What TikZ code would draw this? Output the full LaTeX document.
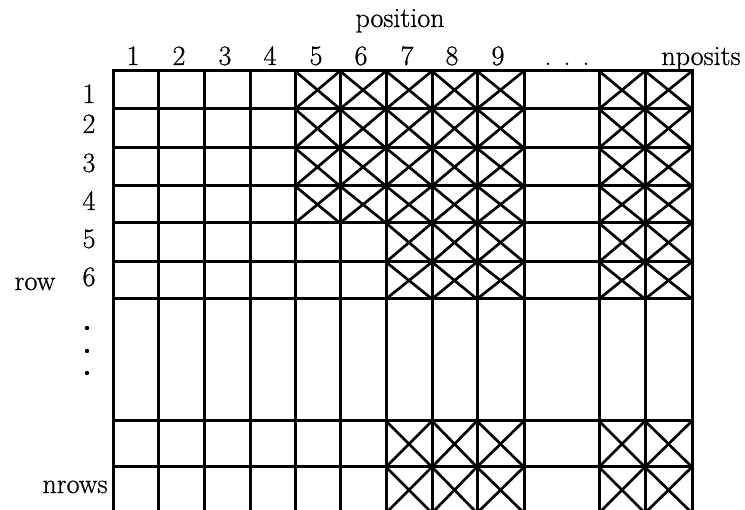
\documentclass[tikz,border=0pt]{standalone}
\usepackage{fontspec}
\newfontfamily\scanfont{Latin Modern Roman}[FakeBold=0.8]
\begin{document}
\begin{tikzpicture}[x=1pt,y=-1pt,
  gridline/.style={line width=3pt, line cap=rect},
  crossline/.style={line width=2.7pt},
  lab/.style={font=\scanfont\fontsize{28}{30}\selectfont, inner sep=0pt, anchor=base}]
\useasboundingbox (0,0) rectangle (745,510);
% labels
\node[lab] (position) at (400,27) {position};
\foreach \n/\x in {1/133,2/179,3/225,4/270,5/316,6/361,7/407,8/452,9/498}
  \node[lab] (c\n) at (\x,65) {\n};
\node[lab] (cdots) at (567,65) {.\kern12pt.\kern12pt.};
\node[lab] (cn) at (701,65) {nposits};
\foreach \n/\y in {1/103,2/133,3/172,4/210,5/248,6/286}
  \node[lab] (r\n) at (89,\y) {\n};
\node[lab] (row) at (35,290) {row};
\node[lab] (nrows) at (75,493) {nrows};
\foreach \y [count=\i] in {328,351,373}
  \fill (87,\y) circle (2.2pt) coordinate (vd\i);
% grid
\foreach \y in {71,109,148,186,223,262,299,421,467}
  \draw[gridline] (113,\y) -- (692,\y);
\foreach \x in {113,158,204,250,295,340,386,432,477,524,599,645,692}
  \draw[gridline] (\x,71) -- (\x,520);
% crosses
\foreach \a/\b in {295/340,340/386}
  \foreach \c/\d in {71/109,109/148,148/186,186/223}
    \draw[crossline] (\a,\c) -- (\b,\d) (\a,\d) -- (\b,\c);
\foreach \a/\b in {386/432,432/477,477/524,599/645,645/692}
  \foreach \c/\d in {71/109,109/148,148/186,186/223,223/262,262/299,421/467,467/513}
    \draw[crossline] (\a,\c) -- (\b,\d) (\a,\d) -- (\b,\c);
\end{tikzpicture}
\end{document}
